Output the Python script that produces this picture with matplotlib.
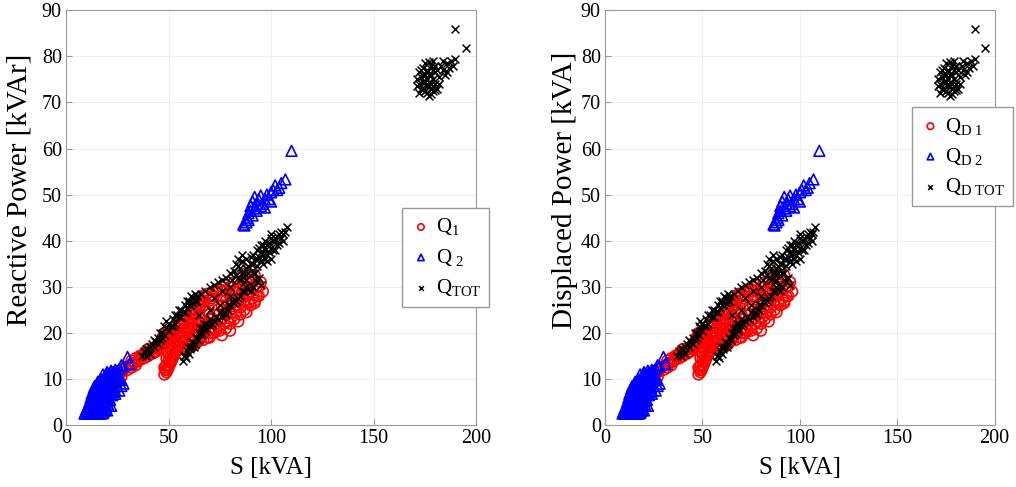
import matplotlib
matplotlib.use("Agg")
import matplotlib.pyplot as plt

# values: (S [kVA], Q [kVAr])
# Q1 - red circles
q1_pts = [
    (25, 10), (26, 11), (27, 11.5), (28, 12), (29, 12.5), (31, 13), (32, 14), (33, 13.5),
    (34, 14.5), (35, 13.8), (36, 14.2), (27, 10.5), (30, 12), (32, 12.5), (34, 13), (36, 15),
    (37, 15), (38, 14.5), (39, 15.5), (40, 15), (41, 16), (42, 16.5), (43, 15.8), (44, 17),
    (45, 17.5), (46, 18), (47, 19), (48, 18.5), (49, 19.5), (50, 20), (52, 20.5), (53, 21.5),
    (55, 22), (38, 15.5), (40, 16.5), (42, 15.5), (44, 16), (45, 16.5), (46, 17), (47, 17.5),
    (48, 20), (49, 18), (50, 19), (51, 20.5), (52, 19), (54, 20), (56, 21.5), (57, 23),
    (48, 11), (48.5, 12), (49, 11.5), (49, 13), (50, 12.5), (50, 14), (51, 13.5), (51, 15),
    (52, 14.5), (52, 16), (53, 15.5), (53, 17), (54, 16), (54, 18), (55, 17), (55, 19),
    (56, 18), (56, 20), (57, 19), (57, 21), (58, 18.5), (58, 22), (59, 20), (59, 23),
    (60, 21), (60, 24), (61, 22), (62, 23), (62, 25), (63, 24), (64, 26), (65, 25),
    (66, 27), (67, 26), (68, 28), (70, 27), (72, 28), (74, 29), (76, 30),
    (48, 12.5), (49.5, 12), (50.5, 13), (51.5, 14), (52.5, 15), (53.5, 16), (54.5, 17),
    (55.5, 18), (56.5, 19), (57.5, 20), (58.5, 21), (59.5, 22), (60.5, 23), (61.5, 24),
    (62.5, 24), (63.5, 25), (64.5, 27), (65.5, 26), (66.5, 28), (67.5, 27), (69, 28.5),
    (71, 27.5), (73, 29), (75, 29.5), (77, 30.5), (49, 14.5), (50, 15.5), (51, 16.5),
    (52, 17.5), (53, 18.5), (54, 19.5), (55, 20.5),
    (58, 17), (60, 17.5), (62, 18), (63, 19), (64, 18), (65, 20), (66, 19), (67, 21),
    (68, 20), (69, 22), (70, 19), (70, 21), (71, 23), (72, 20), (73, 22), (74, 24),
    (75, 21), (76, 23), (77, 25), (78, 21), (78, 24), (79, 26), (80, 22), (80, 25),
    (81, 27), (82, 23), (83, 26), (84, 28), (85, 24), (85, 27), (86, 29), (87, 25),
    (88, 28), (89, 30), (90, 26), (90, 29), (91, 31), (92, 27), (93, 30), (94, 28),
    (95, 31), (84, 31), (86, 32), (88, 33), (80, 30), (82, 31), (76, 28), (78, 29),
    (66, 23), (68, 25), (70, 24), (72, 26), (60, 19), (62, 21), (64, 22),
    (62, 19.5), (64, 20.5), (66, 21), (68, 22.5), (70, 23), (72, 24), (74, 25), (76, 26),
    (78, 27), (80, 28), (82, 29), (84, 29.5), (86, 30.5), (88, 31), (90, 32), (92, 32.5),
    (94, 30), (96, 29), (93, 28), (91, 27.5), (89, 26.5), (87, 27), (85, 25.5), (83, 24.5),
    (81, 23.5), (79, 22.5), (77, 22), (75, 20.5), (73, 20.5), (71, 20), (69, 19),
    (67, 18.5), (65, 18.5), (63, 17.5), (61, 17), (59, 16.5), (76, 19.5), (80, 20.5),
    (84, 22.5), (88, 24.5), (92, 26.5),
]

# Q2 - blue triangles
q2_pts = [
    (9, 2.5), (10, 2.5), (11, 2.5), (12, 2.5), (13, 2.5), (14, 2.5), (15, 2.5), (16, 2.5),
    (17, 2.5), (18, 2.6), (10, 3.5), (12, 3.8), (14, 3.6), (16, 3.4), (18, 3.3), (19, 3.8),
    (11, 4.5), (13, 5), (15, 4.8), (17, 4.6), (19, 4.9), (20, 5.2), (12, 6), (14, 6.3),
    (16, 6.1), (18, 6.2), (20, 6.5), (21, 6.8), (13, 7.2), (15, 7.6), (17, 7.5), (19, 7.8),
    (21, 8), (22, 8.3), (14, 8.5), (16, 8.8), (18, 9), (20, 9.2), (22, 9.5), (23, 9.8),
    (17, 10), (19, 10.4), (21, 10.6), (23, 10.8), (25, 11), (20, 11.5), (22, 11.8),
    (24, 12), (26, 12.2), (27, 13), (28, 12.8), (30, 14.8), (31, 13.3), (26, 7.5),
    (25, 8.5), (24, 6.8), (22, 4.2), (20, 3.2), (12, 3), (14, 4.2), (16, 5.5), (13, 4),
    (15, 3.2), (18, 8), (23, 7.2), (28, 9),
    (9.5, 3), (10.5, 3), (11.5, 3.2), (12.5, 3), (13.5, 3.1), (14.5, 3), (15.5, 3.1),
    (16.5, 3), (17.5, 3.2), (18.5, 3), (10.5, 4), (11.5, 4.2), (12.5, 4.4), (13.5, 4.5),
    (14.5, 4.3), (15.5, 4.2), (16.5, 4.1), (17.5, 4), (18.5, 4.3), (19.5, 4.5),
    (11.5, 5.2), (12.5, 5.5), (13.5, 5.8), (14.5, 5.6), (15.5, 5.4), (16.5, 5.2),
    (17.5, 5.5), (18.5, 5.8), (19.5, 6), (20.5, 6), (12.5, 6.8), (13.5, 7), (14.5, 7),
    (15.5, 6.8), (16.5, 6.9), (17.5, 7), (18.5, 7.1), (19.5, 7.2), (20.5, 7.4),
    (21.5, 7.6), (13.5, 8), (14.5, 8.2), (15.5, 8.3), (16.5, 8.1), (17.5, 8.4),
    (18.5, 8.6), (19.5, 8.5), (20.5, 8.8), (21.5, 9), (22.5, 9), (15.5, 9.4), (16.5, 9.6),
    (17.5, 9.5), (18.5, 9.8), (19.5, 9.9), (20.5, 10), (21.5, 10.2), (22.5, 10.3),
    (24, 10.5), (18, 11), (19.5, 11), (21, 11.2), (22.5, 11.4), (23.5, 11.5), (25, 11.8),
    (24.5, 9.5), (25.5, 10), (26.5, 9.8), (27, 8.5), (23.5, 8.2), (24, 7.5), (22.5, 6.5),
    (21.5, 5.5), (20.5, 4.5), (19.5, 3.5),
    (87, 43.3), (88, 44), (88.5, 45), (89, 46), (90, 46.5), (90, 47.5), (91, 48.5),
    (92, 47), (93, 46.5), (93, 48), (94, 49), (95, 47.5), (96, 48), (97, 49), (98, 50),
    (99, 49), (100, 50.5), (101, 51), (100, 48.5), (102, 52), (103, 51), (104, 51.5),
    (105, 52.5), (107, 53.3), (110, 59.5), (89, 44.5), (91, 45.5), (92, 49.5),
    (95, 49.8), (97, 47.2), (86.5, 43.5),
]

# QTOT - black crosses
qt_pts = [
    (37, 15), (38, 16), (39, 15), (40, 16.5), (41, 15.5), (42, 17.5), (43, 17), (44, 18),
    (45, 19), (46, 18.5), (47, 20), (48, 19.5), (48, 21.5), (49, 21), (50, 22), (51, 21.5),
    (52, 23), (53, 22), (54, 24), (55, 23.5), (56, 25), (57, 24.5), (58, 26), (59, 25.5),
    (60, 27), (61, 26), (62, 27.5), (63, 27), (39, 16.5), (41, 17), (43, 18.5), (45, 17.5),
    (46, 20), (47, 19), (49, 22.5), (50, 20.5), (52, 21.5), (53, 24), (55, 25),
    (56, 23.5), (58, 24.5), (59, 27), (60, 26), (61, 28), (62, 26.5), (63, 28.5), (64, 27),
    (57, 14), (58, 15), (59, 16), (60, 15.5), (61, 17), (62, 18), (63, 17.5), (64, 19),
    (65, 20), (66, 19.5), (67, 21), (68, 20.5), (69, 22), (70, 21.5), (72, 22.5), (74, 23),
    (76, 23.5), (78, 24), (79, 25), (80, 26), (82, 26.5), (84, 27.5), (85, 28), (87, 29),
    (89, 29.5), (91, 30), (93, 31), (95, 30.5), (57.5, 15), (58.5, 14.5), (59.5, 17),
    (60.5, 16.5), (61.5, 18), (62.5, 17), (63.5, 19), (64.5, 18.5), (65.5, 21), (66.5, 20),
    (67.5, 22), (68.5, 21), (70, 23), (71, 22), (73, 23.5), (75, 24.5), (77, 24.5),
    (79, 26), (81, 27), (83, 27), (86, 29), (88, 30), (90, 29), (92, 31.5), (94, 32),
    (64, 28), (66, 28.5), (68, 29), (70, 30), (72, 30.5), (74, 31), (76, 31.5), (78, 32),
    (80, 33), (82, 33.5), (83, 35), (85, 34), (86, 35.5), (87, 33), (88, 36), (89, 34.5),
    (90, 35), (91, 37), (92, 36), (93, 38), (94, 36.5), (95, 37.5), (96, 39), (97, 38),
    (98, 37), (99, 39.5), (100, 38.5), (101, 40), (102, 38), (103, 41), (104, 39.5),
    (105, 40.5), (106, 41.5), (107, 42), (108, 43), (98, 35.5), (100, 36), (96, 35),
    (92, 33), (88, 31.5), (84, 32), (80, 30), (76, 29), (72, 27.5), (65, 24), (70, 25),
    (75, 26), (80, 28), (81, 31.5), (83, 32.5), (84, 34.5), (86, 33), (88, 34),
    (90, 36.5), (91, 35), (93, 36), (94, 38.5), (95, 39), (96, 37), (97, 40), (98, 39),
    (99, 37.5), (100, 40.5), (101, 38), (102, 40), (103, 39), (104, 41.5), (105, 42),
    (106, 40), (100, 41.5), (97, 36), (95, 35.5), (93, 34.5), (91, 33), (89, 33), (87, 31),
    (85, 31.5), (86, 37), (84, 36),
    (172, 74), (173, 75.5), (174, 73), (174, 76), (175, 72.5), (175, 74.5), (176, 77),
    (176, 75), (177, 73.5), (177, 76), (178, 74), (178, 78), (179, 75), (179, 72.5),
    (180, 76.5), (180, 74), (181, 77), (182, 75.5), (183, 78), (184, 77), (185, 76),
    (186, 78.5), (187, 77.5), (188, 79), (189, 78), (190, 79.5), (190, 86), (195, 81.7),
    (176, 72), (178, 71.8), (173, 77), (175, 78.5), (177, 78.8), (181, 73), (171, 75),
    (172, 76.5), (173, 73), (174, 77.5), (175, 76), (176, 73.5), (177, 74.5), (178, 76),
    (179, 77), (180, 72.8), (174, 74.5), (176, 76.5), (178, 73), (180, 78), (182, 74),
    (184, 79), (186, 76.5), (171, 73.5), (172, 72), (179, 79), (177, 71.5),
]

q1_s, q1_q = zip(*q1_pts)
q2_s, q2_q = zip(*q2_pts)
qt_s, qt_q = zip(*qt_pts)

font = "Liberation Serif"
plt.rcParams["font.family"] = font
plt.rcParams["mathtext.fontset"] = "custom"
plt.rcParams["mathtext.rm"] = font
plt.rcParams["mathtext.it"] = font

fig = plt.figure(figsize=(10.16, 4.87), dpi=100)
ax1 = fig.add_axes([0.065, 0.127, 0.4035, 0.852])
ax2 = fig.add_axes([0.5955, 0.127, 0.3835, 0.852])

panels = [
    (ax1, "Reactive Power [kVAr]",
     [r"Q$_{1}$", r"Q$_{\ 2}$", r"Q$_{\rm TOT}$"], (0.82, 0.523), -0.083),
    (ax2, "Displaced Power [kVA]",
     [r"Q$_{\rm D\ 1}$", r"Q$_{\rm D\ 2}$", r"Q$_{\rm D\ TOT}$"], (0.787, 0.766), -0.07),
]

for ax, ylabel, labels, anchor, ylab_x in panels:
    ax.scatter(q1_s, q1_q, s=60, facecolors="none", edgecolors="red", linewidths=1.2, label=labels[0])
    ax.scatter(q2_s, q2_q, s=60, marker="^", facecolors="none", edgecolors="blue", linewidths=1.2, label=labels[1])
    ax.scatter(qt_s, qt_q, s=32, marker="x", color="black", linewidths=1.1, label=labels[2])
    ax.set_xlim(0, 200)
    ax.set_ylim(0, 90)
    ax.set_xticks([0, 50, 100, 150, 200])
    ax.set_yticks(range(0, 91, 10))
    ax.grid(color="#ececec", linewidth=0.6)
    ax.set_axisbelow(True)
    for sp in ax.spines.values():
        sp.set_color("#9a9a9a")
    ax.tick_params(direction="in", color="#9a9a9a", labelsize=14.5, length=4, pad=3)
    ax.set_xlabel("S [kVA]", fontsize=18, labelpad=6)
    ax.set_ylabel(ylabel, fontsize=21)
    ax.yaxis.set_label_coords(ylab_x, 0.566)
    ax.legend(loc="upper left", bbox_to_anchor=anchor, borderaxespad=0, fontsize=15,
              fancybox=False, edgecolor="#9a9a9a", framealpha=1, markerscale=0.6,
              handletextpad=0.2, borderpad=0.4, labelspacing=0.45, handlelength=1.0)

fig.savefig("out.png", dpi=100)
